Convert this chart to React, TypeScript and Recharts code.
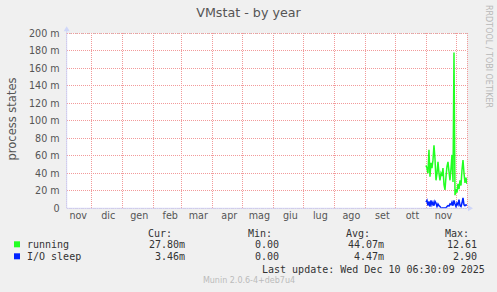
import React from 'react';
import { ComposedChart, Line, XAxis, YAxis, ReferenceDot, CartesianGrid } from 'recharts';

const chartTitle = 'VMstat - by year';
const yAxisTitle = 'process states';
const watermark = 'RRDTOOL / TOBI OETIKER';
const footer = 'Munin 2.0.6-4+deb7u4';
const lastUpdate = 'Last update: Wed Dec 10 06:30:09 2025';

// x axis: days since start of the 400-day window
const monthLabels = ['nov', 'dic', 'gen', 'feb', 'mar', 'apr', 'mag', 'giu', 'lug', 'ago', 'set', 'ott', 'nov'];
const monthStartDays = [-5, 25, 56, 87, 115, 146, 176, 207, 237, 268, 299, 329, 360, 390];

const yMajorTicks = [0, 20, 40, 60, 80, 100, 120, 140, 160, 180, 200];
const yMinorTicks = [10, 30, 50, 70, 90, 110, 130, 150, 170, 190];

// values in milli-units (m), one per day starting at firstDay
const firstDay = 359;
const running = [
  49, 46, 40, 67, 36, 52, 46, 55, 72, 57, 32, 40, 53, 40, 32, 40, 37, 46, 27, 21, 36,
  48, 53, 42, 32, 45, 61, 30, 178, 15, 22, 18, 28, 22, 32, 26, 44, 55, 40, 29, 35, 27.8,
];
const ioSleep = [
  7, 9, 3, 8, 2, 9, 4, 7, 3, 8, 6, 2, 5, 3, 2, 0.5, 0.3, 0.5, 0.4, 0.6, 0.5,
  2, 3, 2.5, 5, 4, 7, 3, 9, 5, 2, 6, 4, 10, 3, 2, 6, 12, 4, 3, 4, 3.46,
];

const seriesNames = ['running', 'I/O sleep'];
const seriesColors = ['#22ff22', '#0022ff'];
const curValues = ['27.80m', '3.46m'];
const minValues = ['0.00', '0.00'];
const avgValues = ['44.07m', '4.47m'];
const maxValues = ['12.61', '2.90'];
const statHeaders = ['Cur:', 'Min:', 'Avg:', 'Max:'];

const data = running.map((v, i) => ({ day: firstDay + i, running: v, io: ioSleep[i] }));
const labelTicks = monthLabels.map((_, i) => monthStartDays[i] + 16.5);
const gridDays = monthStartDays.filter((d) => d > 0 && d < 400);

const AXIS = '#CFD6F8';
const MAJOR = '#f29a9a';
const MINOR = '#c8c8c8';
const FONT = '#555';

const RightArrow = (p: any) => {
  const { cx, cy } = p;
  return <polygon points={`${cx + 1},${cy - 3} ${cx + 6},${cy} ${cx + 1},${cy + 3}`} fill={AXIS} />;
};
const UpArrow = (p: any) => {
  const { cx, cy } = p;
  return (
    <g>
      <line x1={cx} y1={cy} x2={cx} y2={cy - 3} stroke={AXIS} />
      <polygon points={`${cx - 3},${cy - 2} ${cx},${cy - 7} ${cx + 3},${cy - 2}`} fill={AXIS} />
    </g>
  );
};

const headerEnds = [172, 272, 370, 469];
const colEnds = [185, 279, 384, 477];
const rowBaselines = [248.3, 260.3];

export default function App() {
  return (
    <div style={{ position: 'absolute', left: 0, top: 0, width: 497, height: 292, background: '#F0F0F0' }}>
      <ComposedChart
        width={497}
        height={292}
        data={data}
        margin={{ top: 33.3, right: 30, bottom: 63.7, left: 0 }}
      >
        <CartesianGrid fill="#ffffff" horizontal={false} vertical={false} stroke="none" />
        <CartesianGrid
          yAxisId="minor"
          vertical={false}
          stroke={MINOR}
          strokeDasharray="1 2"
          shapeRendering="crispEdges"
        />
        <CartesianGrid
          xAxisId="grid"
          stroke={MAJOR}
          strokeDasharray="1 1"
          shapeRendering="crispEdges"
        />
        <XAxis
          dataKey="day"
          type="number"
          domain={[0, 400]}
          allowDataOverflow
          ticks={labelTicks}
          interval={0}
          height={20}
          tickFormatter={(_v: number, i: number) => monthLabels[i]}
          tickLine={false}
          tickSize={3}
          tickMargin={1.2}
          axisLine={{ stroke: AXIS }}
          tick={{ fill: FONT, fontSize: 9.6, fontFamily: 'DejaVu Sans' }}
        />
        <XAxis
          xAxisId="grid"
          dataKey="day"
          type="number"
          domain={[0, 400]}
          allowDataOverflow
          ticks={gridDays}
          interval={0}
          hide
        />
        <YAxis
          type="number"
          domain={[0, 200]}
          ticks={yMajorTicks}
          interval={0}
          width={66.7}
          tickFormatter={(v: number) => (v === 0 ? '0' : `${v} m`)}
          tickLine={false}
          tickSize={3}
          tickMargin={4}
          axisLine={{ stroke: AXIS }}
          tick={{ fill: FONT, fontSize: 9.6, fontFamily: 'DejaVu Sans' }}
        />
        <YAxis yAxisId="minor" type="number" domain={[0, 200]} ticks={yMinorTicks} interval={0} hide />
        <Line
          type="linear"
          dataKey="running"
          stroke={seriesColors[0]}
          strokeWidth={1.5}
          dot={false}
          isAnimationActive={false}
        />
        <Line
          type="linear"
          dataKey="io"
          stroke={seriesColors[1]}
          strokeWidth={1.5}
          dot={false}
          isAnimationActive={false}
        />
        <ReferenceDot x={400} y={0} r={0} ifOverflow="visible" shape={RightArrow} />
        <ReferenceDot x={0} y={200} r={0} ifOverflow="visible" shape={UpArrow} />
      </ComposedChart>
      <svg
        width={497}
        height={292}
        style={{ position: 'absolute', left: 0, top: 0, pointerEvents: 'none' }}
      >
        <text x={248.5} y={17.3} textAnchor="middle" fontFamily="DejaVu Sans" fontSize={12.7} fill={FONT}>
          {chartTitle}
        </text>
        <text
          x={12}
          y={119}
          transform="rotate(-90, 12, 119)"
          textAnchor="middle"
          dominantBaseline="central"
          fontFamily="DejaVu Sans"
          fontSize={11.5}
          fill={FONT}
        >
          {yAxisTitle}
        </text>
        <text
          x={488}
          y={5}
          transform="rotate(90, 488, 5)"
          dominantBaseline="central"
          fontFamily="DejaVu Sans"
          fontSize={8}
          fill="#b8b8b8"
        >
          {watermark}
        </text>
        <g fontFamily="DejaVu Sans Mono" fontSize={10} fill="#333">
          {statHeaders.map((h, i) => (
            <text key={h} x={headerEnds[i]} y={236.8} textAnchor="end">
              {h}
            </text>
          ))}
          {seriesNames.map((name, r) => (
            <g key={name}>
              <rect x={14} y={rowBaselines[r] - 7} width={6} height={6} fill={seriesColors[r]} />
              <text x={27} y={rowBaselines[r]}>{name}</text>
              <text x={colEnds[0]} y={rowBaselines[r]} textAnchor="end">{curValues[r]}</text>
              <text x={colEnds[1]} y={rowBaselines[r]} textAnchor="end">{minValues[r]}</text>
              <text x={colEnds[2]} y={rowBaselines[r]} textAnchor="end">{avgValues[r]}</text>
              <text x={colEnds[3]} y={rowBaselines[r]} textAnchor="end">{maxValues[r]}</text>
            </g>
          ))}
          <text x={262} y={272.8}>{lastUpdate}</text>
        </g>
        <text x={249} y={283.3} textAnchor="middle" fontFamily="DejaVu Sans" fontSize={8} fill="#bbb">
          {footer}
        </text>
      </svg>
    </div>
  );
}
